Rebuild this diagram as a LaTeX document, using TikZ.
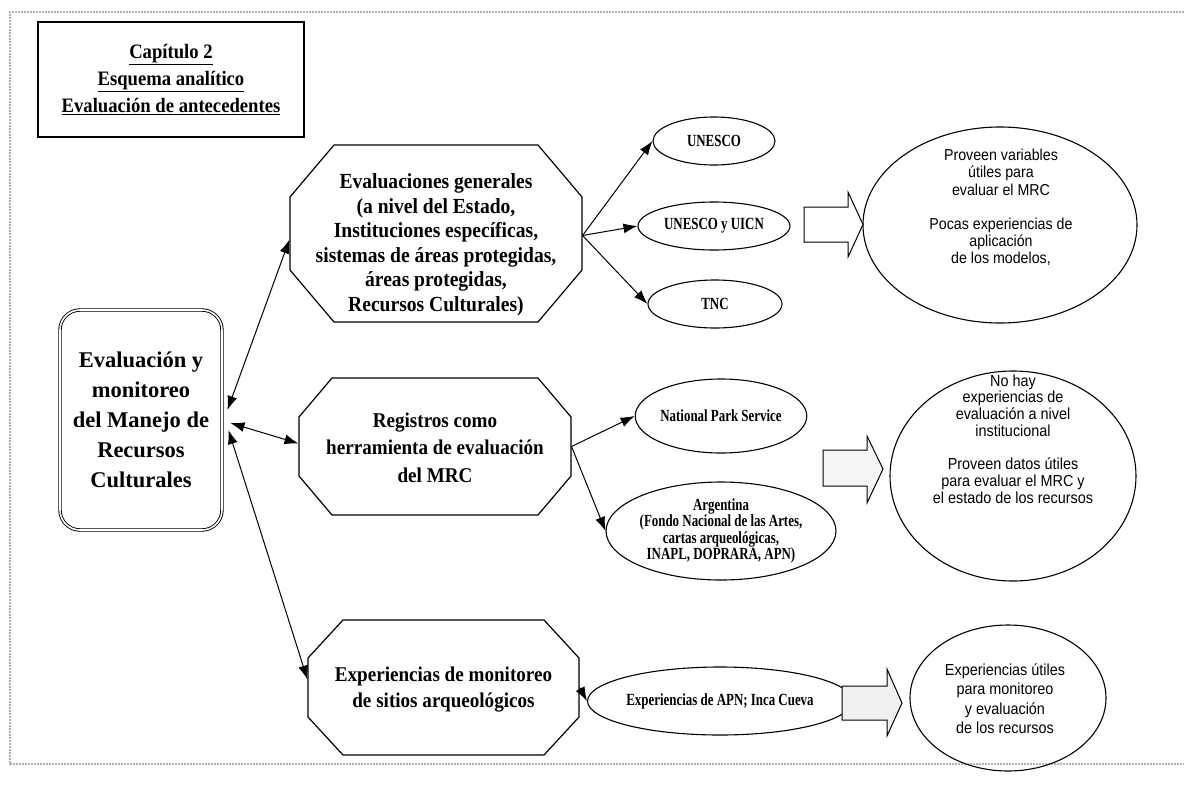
\documentclass[tikz,border=0pt]{standalone}
\usepackage{fontspec}
\setmainfont{Liberation Serif}
\newfontfamily\arialc[FakeStretch=0.9]{Liberation Sans}
\newfontfamily\smallserif[FakeStretch=0.76]{Liberation Serif}
\newfontfamily\octserif[FakeStretch=0.91]{Liberation Serif}
\usetikzlibrary{shapes.geometric,arrows.meta,calc}
\newcommand\octpath[6]{\draw[octline] (#1+#5,#2) -- (#3-#5,#2) -- (#3,#2+#6) -- (#3,#4-#6) -- (#3-#5,#4) -- (#1+#5,#4) -- (#1,#4-#6) -- (#1,#2+#6) -- cycle;}
\begin{document}
\begin{tikzpicture}[x=1pt,y=-1pt,
  line width=1.1pt,
  ell/.style={draw, ellipse, inner sep=0pt, align=center, line width=1.1pt, font=\smallserif\bfseries\fontsize{17}{13.5}\selectfont},
  bigell/.style={draw, ellipse, inner sep=0pt, line width=1.1pt},
  eltext/.style={align=center, inner sep=0pt, font=\arialc\fontsize{15.8}{17.2}\selectfont},
  octbox/.style={rectangle, inner sep=0pt},
  octtext/.style={align=center, inner sep=0pt, font=\octserif\bfseries\fontsize{21.5}{24.5}\selectfont},
  octline/.style={draw, line width=1.2pt, line join=miter},
  conn/.style={-{Latex[length=14pt,width=10pt]}, line width=1pt},
  dconn/.style={{Latex[length=14pt,width=10pt]}-{Latex[length=14pt,width=10pt]}, line width=1pt},
  blockarrow/.style={draw, line width=1pt, line join=miter}
]
\fill[white] (0,0) rectangle (1184,796);
\useasboundingbox (0,0) rectangle (1184,796);
% outer frame
\draw[gray!60, line width=2pt, densely dotted] (1184,12) -- (10,12) -- (10,764) -- (1184,764);

% title
\node[draw, line width=2.2pt, minimum width=266pt, minimum height=115pt, inner sep=0pt, align=center,
  font=\octserif\bfseries\fontsize{20.5}{27}\selectfont] (title) at (171,79.5)
  {\underline{Capítulo 2}\\ \underline{Esquema analítico}\\ \underline{Evaluación de antecedentes}};

% main box
\node[draw, double, double distance=1.6pt, line width=0.9pt, rounded corners=20pt,
  minimum width=162pt, minimum height=220pt, inner sep=0pt, align=center,
  font=\bfseries\fontsize{22.5}{30}\selectfont] (main) at (141,420)
  {Evaluación y\\monitoreo\\del Manejo de\\Recursos\\Culturales};

% octagons
\octpath{290}{145}{582}{322}{44}{52}
\node[octbox, minimum width=292pt, minimum height=177pt] (oct1) at (436,233.5) {};
\node[octtext] (oct1t) at (436,245) {Evaluaciones generales\\(a nivel del Estado,\\Instituciones específicas,\\sistemas de áreas protegidas,\\áreas protegidas,\\Recursos Culturales)};

\octpath{299}{378}{571}{515}{33}{39}
\node[octbox, minimum width=272pt, minimum height=137pt] (oct2) at (435,446.5) {};
\node[octtext, font=\octserif\bfseries\fontsize{21}{27.5}\selectfont] (oct2t) at (435,447.5) {Registros como\\herramienta de evaluación\\del MRC};

\octpath{308}{620}{579}{755}{35}{38}
\node[octbox, minimum width=271pt, minimum height=135pt] (oct3) at (443.5,687.5) {};
\node[octtext, font=\octserif\bfseries\fontsize{21}{26}\selectfont] (oct3t) at (443.5,690) {Experiencias de monitoreo\\de sitios arqueológicos};

% small ellipses
\node[ell, minimum width=122pt, minimum height=48pt] (u1) at (714,141) {UNESCO};
\node[ell, minimum width=152pt, minimum height=48pt] (u2) at (714,226) {UNESCO y UICN};
\node[ell, minimum width=134pt, minimum height=48pt] (u3) at (715,304) {TNC};
\node[ell, minimum width=166pt, minimum height=74pt] (nps) at (721,416) {National Park Service};
\node[ell, minimum width=226pt, minimum height=98pt] (arg) at (721,531) {Argentina\\(Fondo Nacional de las Artes,\\cartas arqueológicas,\\INAPL, DOPRARA, APN)};
\node[ell, minimum width=224pt, minimum height=68pt] (apn) at (720,701) {Experiencias de APN; Inca Cueva};

% big ellipses
\node[bigell, minimum width=274pt, minimum height=196pt] (e1) at (1000,225) {};
\node[eltext] (e1t) at (1001,207.5) {Proveen variables\\útiles para\\evaluar el MRC\\[17.2pt]Pocas experiencias de\\aplicación\\de los modelos,};
\node[bigell, minimum width=246pt, minimum height=210pt] (e2) at (1013,476) {};
\node[eltext, font=\arialc\fontsize{16}{16.7}\selectfont] (e2t) at (1013,439) {No hay\\experiencias de\\evaluación a nivel\\institucional\\[16.7pt]Proveen datos útiles\\para evaluar el MRC y\\el estado de los recursos};
\node[bigell, minimum width=196pt, minimum height=146pt] (e3) at (1008,698) {};
\node[eltext, font=\arialc\fontsize{16}{19.5}\selectfont] (e3t) at (1005,698.5) {Experiencias útiles\\para monitoreo\\y evaluación\\de los recursos};

% block arrows
\draw[blockarrow, fill=white] (804,207) -- (848,207) -- (848,192) -- (863,224.5) -- (848,257) -- (848,242) -- (804,242) -- cycle;
\draw[blockarrow, fill=gray!8] (823,450) -- (867,450) -- (867,436) -- (883,469) -- (867,503) -- (867,486) -- (823,486) -- cycle;
\draw[blockarrow, fill=gray!12] (842,686) -- (887,686) -- (887,669) -- (902,703) -- (887,736) -- (887,720) -- (842,720) -- cycle;

% connectors from main
\draw[dconn] ($(main.east)+(5,-10)$) -- ($(oct1.west)+(0,6)$);
\draw[dconn] ($(main.east)+(8,3)$) -- ($(oct2.west)+(0,-3)$);
\draw[dconn] ($(main.east)+(6,10)$) -- ($(oct3.west)+(0,-8)$);

% connectors to ellipses
\draw[conn] ($(oct1.east)+(0,2)$) -- (u1.west);
\draw[conn] ($(oct1.east)+(0,2)$) -- (u2.west);
\draw[conn] ($(oct1.east)+(0,2)$) -- (u3.west);
\draw[conn] (oct2.east) -- (nps.west);
\draw[conn] (oct2.east) -- (arg.west);
\draw[conn] (oct3.east) -- (apn.west);
\end{tikzpicture}
\end{document}
